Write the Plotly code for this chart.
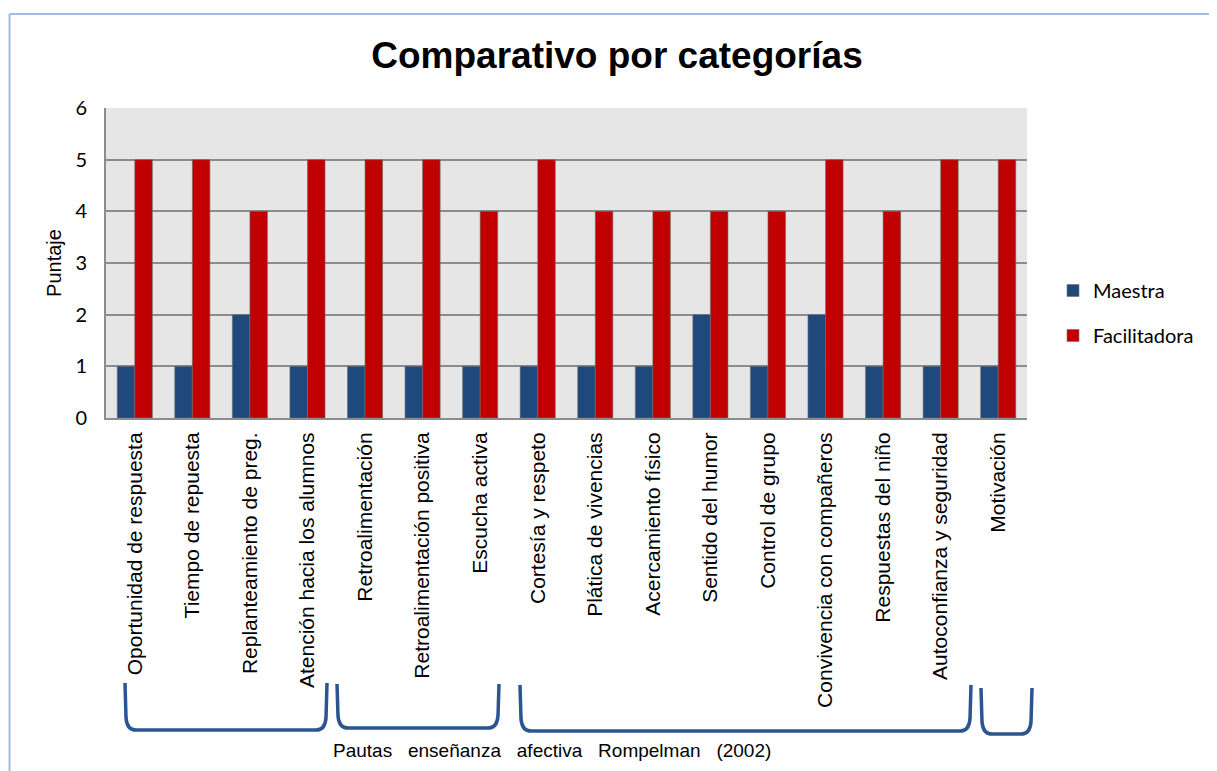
import plotly.graph_objects as go

categorias = [
    "Oportunidad de respuesta", "Tiempo de repuesta", "Replanteamiento de preg.",
    "Atención hacia los alumnos", "Retroalimentación", "Retroalimentación positiva",
    "Escucha activa", "Cortesía y respeto", "Plática de vivencias",
    "Acercamiento físico", "Sentido del humor", "Control de grupo",
    "Convivencia con compañeros", "Respuestas del niño", "Autoconfianza y seguridad",
    "Motivación",
]
maestra = [1, 1, 2, 1, 1, 1, 1, 1, 1, 1, 2, 1, 2, 1, 1, 1]
facilitadora = [5, 5, 4, 5, 5, 5, 4, 5, 4, 4, 4, 4, 5, 4, 5, 5]
y_ticks = [0, 1, 2, 3, 4, 5, 6]

# the page body has an 8px margin, so the figure sits 8px right/down
OFF = 8
W, H = 1217 - OFF, 771 - OFF
L, R, T, B = 106, 1027, 108, 418  # plot area, screen pixels

def px_x(px):
    return (px - L) / (R - L)

def px_y(py):
    return (B - py) / (B - T)

def bracket(x1, x2, ytop, ybot):
    pts = [
        f"M {px_x(x1)},{px_y(ytop)}",
        f"L {px_x(x1 + 1)},{px_y(ybot - 12)}",
        f"Q {px_x(x1 + 2)},{px_y(ybot)} {px_x(x1 + 11)},{px_y(ybot)}",
        f"L {px_x(x2 - 11)},{px_y(ybot)}",
        f"Q {px_x(x2 - 2)},{px_y(ybot)} {px_x(x2 - 1)},{px_y(ybot - 12)}",
        f"L {px_x(x2)},{px_y(ytop)}",
    ]
    return dict(type="path", xref="paper", yref="paper", path=" ".join(pts),
                line=dict(color="#2a5591", width=3.5))

fig = go.Figure()
fig.add_trace(go.Bar(
    x=categorias, y=maestra, name="Maestra", legendgroup="m",
    marker=dict(color="#1f497d", line=dict(color="rgba(110,110,110,0.6)", width=1)),
))
fig.add_trace(go.Bar(
    x=categorias, y=facilitadora, name="Facilitadora", legendgroup="f",
    marker=dict(color="#c00000", line=dict(color="rgba(110,110,110,0.6)", width=1)),
))

frame_x = OFF + 1.5
shapes = [
    bracket(125, 327, 683, 730),
    bracket(337, 499, 684, 728),
    bracket(520, 971, 685, 731),
    bracket(981, 1032, 688, 734),
    # outer frame (top and left)
    dict(type="line", xref="paper", yref="paper", x0=px_x(frame_x), x1=px_x(1217),
         y0=px_y(14), y1=px_y(14), line=dict(color="#a3bcdc", width=2)),
    dict(type="line", xref="paper", yref="paper", x0=px_x(frame_x), x1=px_x(frame_x),
         y0=px_y(14), y1=px_y(771), line=dict(color="#a3bcdc", width=2)),
]

fig.add_annotation(
    text="Pautas\u00a0\u00a0 enseñanza\u00a0\u00a0 afectiva\u00a0\u00a0 Rompelman\u00a0\u00a0 (2002)",
    xref="paper", yref="paper", x=px_x(552), y=px_y(763),
    showarrow=False, font=dict(family="Liberation Sans, Arial", size=19, color="#000000"),
)

fig.update_layout(
    width=W, height=H,
    margin=dict(l=L - OFF, r=1217 - R, t=T - OFF, b=771 - B),
    paper_bgcolor="white",
    plot_bgcolor="#e6e6e6",
    barmode="group",
    bargap=0.39,
    bargroupgap=0,
    shapes=shapes,
    title=dict(
        text="<b>Comparativo por categorías</b>",
        x=(617 - OFF) / W, xanchor="center", y=1 - (55 - OFF) / H, yanchor="middle",
        font=dict(family="Liberation Sans, Arial", size=37, color="#000000"),
    ),
    legend=dict(
        x=px_x(1053), y=px_y(313), xanchor="left", yanchor="middle",
        font=dict(family="Lato, Calibri", size=20, color="#000000"),
        tracegroupgap=16, bgcolor="rgba(0,0,0,0)",
    ),
    xaxis=dict(
        tickangle=-90,
        tickfont=dict(family="Liberation Sans, Arial", size=21, color="#000000"),
        showline=True, linecolor="#8c8c8c", linewidth=2,
        ticks="", ticklabelstandoff=4,
    ),
    yaxis=dict(
        range=[0, 6], tickvals=y_ticks,
        tickfont=dict(family="Lato, Calibri", size=20, color="#000000"),
        showgrid=True, gridcolor="#8c8c8c", gridwidth=2,
        showline=True, linecolor="#8c8c8c", linewidth=2, mirror=False,
        zeroline=False, ticks="", ticklabelstandoff=13,
        title=dict(text="Puntaje", standoff=8,
                   font=dict(family="Liberation Sans, Arial", size=20, color="#000000")),
    ),
)

fig.write_html("out.html")
